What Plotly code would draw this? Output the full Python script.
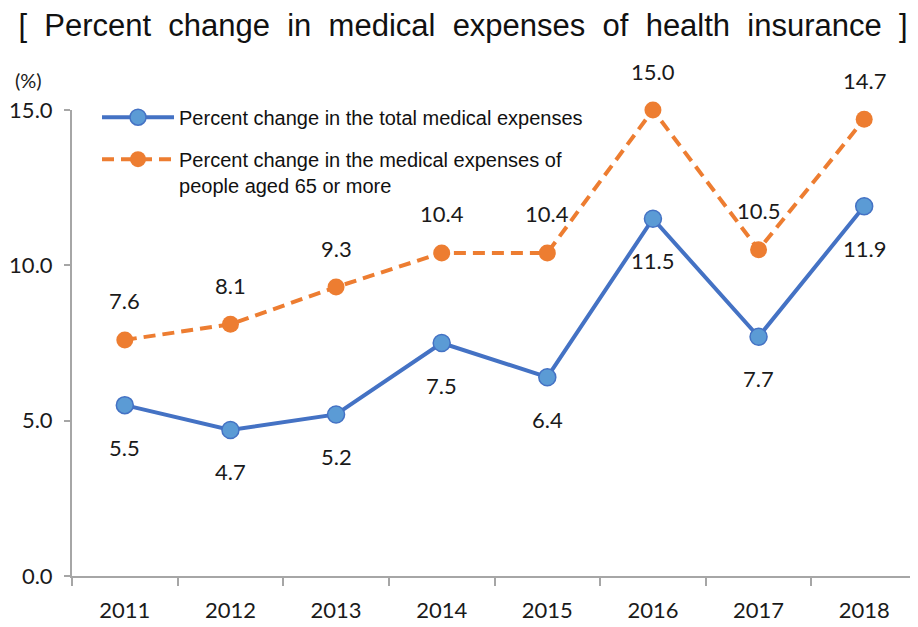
import plotly.graph_objects as go

years = ["2011", "2012", "2013", "2014", "2015", "2016", "2017", "2018"]
total_change = [5.5, 4.7, 5.2, 7.5, 6.4, 11.5, 7.7, 11.9]
elderly_change = [7.6, 8.1, 9.3, 10.4, 10.4, 15.0, 10.5, 14.7]
y_ticks = [0, 5, 10, 15]

name_total = "Percent change in the total medical expenses"
name_elderly = "Percent change in the medical expenses of<br>people aged 65 or more"
title_text = "[ Percent change in medical expenses of health insurance ]"

BLUE_LINE = "#4472C4"
BLUE_FILL = "#5B9BD5"
ORANGE = "#ED7D31"
AXIS = "#A6A6A6"
TXT = "#1A1A1A"
NUM_FONT = "Lato"

fig = go.Figure()
fig.add_trace(go.Scatter(
    x=years, y=total_change, name=name_total, mode="lines+markers",
    line=dict(color=BLUE_LINE, width=4),
    marker=dict(size=17, color=BLUE_FILL, line=dict(color=BLUE_LINE, width=1.5)),
    cliponaxis=False, legendgroup="a",
))
fig.add_trace(go.Scatter(
    x=years, y=elderly_change, name=name_elderly, mode="lines+markers",
    line=dict(color=ORANGE, width=4, dash="12px,7px"),
    marker=dict(size=17, color=ORANGE),
    cliponaxis=False, legendgroup="b",
))

annotations = []
for i, v in enumerate(total_change):
    annotations.append(dict(x=i, y=v, xref="x", yref="y", text=f"{v:.1f}", showarrow=False,
                            yshift=-42, font=dict(family=NUM_FONT, size=22, color=TXT)))
for i, v in enumerate(elderly_change):
    annotations.append(dict(x=i, y=v, xref="x", yref="y", text=f"{v:.1f}", showarrow=False,
                            yshift=39, font=dict(family=NUM_FONT, size=22, color=TXT)))
annotations.append(dict(xref="paper", yref="paper", x=-0.052, y=1.0636, text="(%)",
                        showarrow=False, xanchor="center", yanchor="middle",
                        font=dict(family=NUM_FONT, size=20, color=TXT)))

title_spaced = title_text.replace(" ", "\u00a0\u00a0")

fig.update_layout(
    width=910, height=619,
    margin=dict(l=64, r=1, t=102, b=51),
    paper_bgcolor="white", plot_bgcolor="white",
    title=dict(text=title_spaced, x=0.5, xref="container", xanchor="center",
               y=0.973, yref="container", yanchor="middle",
               font=dict(family="Liberation Sans, Arial", size=31, color="#111111")),
    showlegend=True,
    legend=dict(x=0.0296, y=1.0264, xanchor="left", yanchor="top",
                font=dict(family="Liberation Sans, Arial", size=20, color="#111111"),
                bgcolor="rgba(0,0,0,0)", valign="top", tracegroupgap=13,
                itemwidth=72),
    xaxis=dict(type="category", range=[-0.5, 7.5], tickson="boundaries",
               ticks="outside", ticklen=8, tickwidth=2, tickcolor=AXIS,
               showline=True, linecolor=AXIS, linewidth=2, showgrid=False,
               ticklabelstandoff=14,
               tickfont=dict(family=NUM_FONT, size=22, color=TXT)),
    yaxis=dict(range=[0, 15], tickvals=y_ticks, tickformat=".1f",
               ticks="outside", ticklen=6, tickwidth=2, tickcolor=AXIS,
               showline=True, linecolor=AXIS, linewidth=2, showgrid=False,
               zeroline=False, ticklabelstandoff=7,
               tickfont=dict(family=NUM_FONT, size=22, color=TXT)),
    annotations=annotations,
)

fig.write_html("out.html")
